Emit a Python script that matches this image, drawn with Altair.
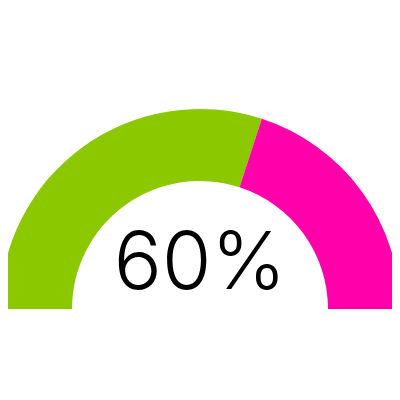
import math
import altair as alt
import pandas as pd

segments = ["value", "rest"]
amounts = [60, 40]
colors = ["#8cc800", "#ff00aa"]
label = "60%"

df = pd.DataFrame({"segment": segments, "amount": amounts, "rank": [0, 1]})

arc = alt.Chart(df).mark_arc(outerRadius=200, innerRadius=128).encode(
    theta=alt.Theta("amount:Q", stack=True,
                    scale=alt.Scale(range=[-math.pi / 2, math.pi / 2])),
    color=alt.Color("segment:N", scale=alt.Scale(domain=segments, range=colors), legend=None),
    order=alt.Order("rank:Q"),
    x=alt.value(192),
    y=alt.value(301),
)

text = alt.Chart(pd.DataFrame({"t": [label]})).mark_text(
    font="Inter", fontSize=80, fontWeight=300, color="#000000",
    align="center", baseline="alphabetic",
).encode(text="t:N", x=alt.value(192), y=alt.value(281))

chart = (arc + text).properties(width=384, height=384, padding=0,
                                autosize=alt.AutoSizeParams(type="none")
                                ).configure_view(stroke=None)

chart.save("out.html", embed_options={"renderer": "svg", "actions": False})
